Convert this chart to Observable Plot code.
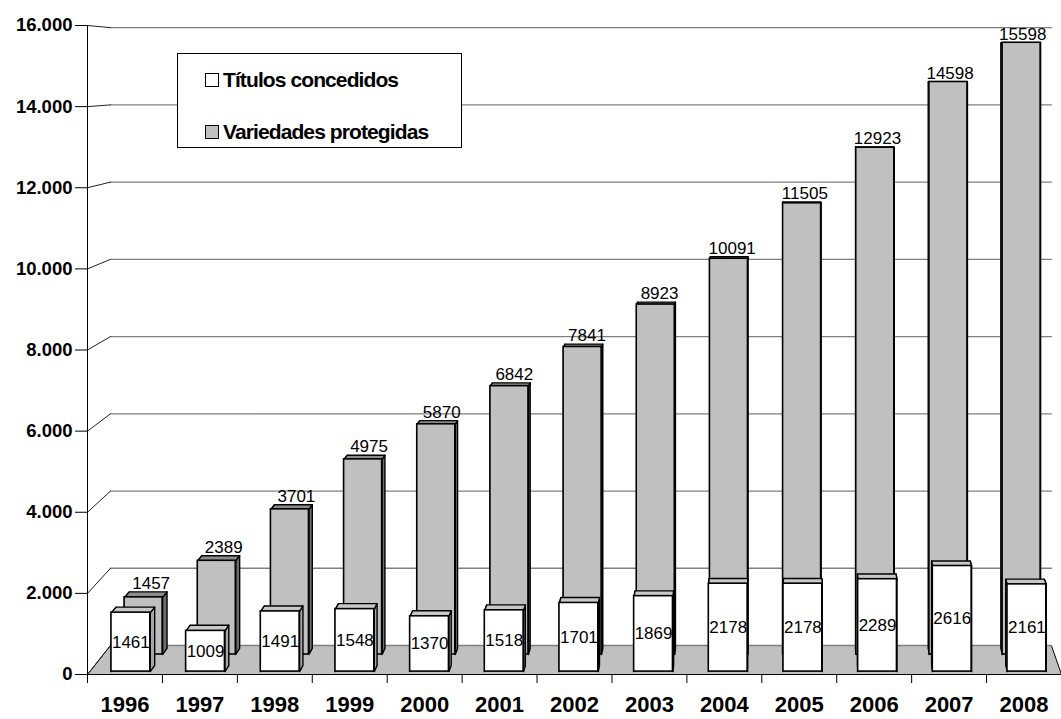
<!DOCTYPE html>
<html>
<head>
<meta charset="utf-8">
<script src="https://cdn.jsdelivr.net/npm/d3@7"></script>
<script src="https://cdn.jsdelivr.net/npm/@observablehq/plot@0.6"></script>
<style>
  html, body { margin: 0; padding: 0; background: #fff; }
  #wrap { position: relative; width: 1061px; height: 719px; font-family: "Liberation Sans", Arial, sans-serif; }
  #legend { position: absolute; left: 177px; top: 53px; width: 285px; height: 95px; border: 1px solid #000; background: #fff; box-sizing: border-box; }
  .row { position: absolute; left: 27px; display: flex; align-items: center; font-weight: bold; font-size: 21px; letter-spacing: -0.9px; color: #000; white-space: nowrap; }
  .sw { width: 12px; height: 12px; border: 1px solid #000; margin-right: 4px; }
</style>
</head>
<body>
<div id="wrap">
  <div id="chart"></div>
  <div id="legend">
    <div class="row" style="top:14px"><div class="sw" style="background:#fff"></div><span id="l0"></span></div>
    <div class="row" style="top:66px"><div class="sw" style="background:#c0c0c0"></div><span id="l1"></span></div>
  </div>
</div>
<script>
const years = [1996, 1997, 1998, 1999, 2000, 2001, 2002, 2003, 2004, 2005, 2006, 2007, 2008];
const titulos = [1461, 1009, 1491, 1548, 1370, 1518, 1701, 1869, 2178, 2178, 2289, 2616, 2161];
const variedades = [1457, 2389, 3701, 4975, 5870, 6842, 7841, 8923, 10091, 11505, 12923, 14598, 15598];
const seriesNames = ["Títulos concedidos", "Variedades protegidas"];
const yTicks = [0, 2000, 4000, 6000, 8000, 10000, 12000, 14000, 16000];

document.getElementById("l0").textContent = seriesNames[0];
document.getElementById("l1").textContent = seriesNames[1];

// simple oblique/perspective projection of (category position, depth, value) into the front plane
const A = 0.034, B = 0.307, G = 0.048, D = 715;
const proj = (x, z, v) => ({x: x * (1 - A * z) + B * z, y: v * (1 - G * z) + D * z});
const N = years.length;

function barGeom(values, z0, z1, tag) {
  const fronts = [], tops = [], sides = [], labels = [];
  values.forEach((v, i) => {
    const xl = i + 0.29, xr = i + 0.81, xc = i + 0.55;
    const a = proj(xl, z0, 0), b = proj(xr, z0, v);
    fronts.push({x1: a.x, x2: b.x, y1: a.y, y2: b.y});
    const top = [proj(xl, z0, v), proj(xr, z0, v), proj(xr, z1, v), proj(xl, z1, v), proj(xl, z0, v)];
    top.forEach(p => tops.push({id: tag + i, ...p}));
    for (const xs of [xl, xr]) {
      const s = [proj(xs, z0, 0), proj(xs, z1, 0), proj(xs, z1, v), proj(xs, z0, v), proj(xs, z0, 0)];
      s.forEach(p => sides.push({id: tag + i + "s" + xs, ...p}));
    }
    labels.push({v, front: proj(xc, z0, v / 2), back: proj(xc, z1, v)});
  });
  return {fronts, tops, sides, labels};
}

const gray = barGeom(variedades, 0.69, 0.9, "g");
const white = barGeom(titulos, 0.1, 0.31, "w");

// floor
const floor = [proj(0, 0, 0), proj(0, 1, 0), proj(N, 1, 0), proj(N, 0, 0), proj(0, 0, 0)];
// back wall gridlines and side-wall diagonals
const wallLines = [], sideLines = [];
yTicks.forEach(t => {
  [proj(0, 1, t), proj(N, 1, t)].forEach(p => wallLines.push({id: t, ...p}));
  [proj(0, 0, t), proj(0, 1, t)].forEach(p => sideLines.push({id: t, ...p}));
});

const fmt = v => v === 0 ? "0" : d3.format(",")(v).replace(/,/g, ".");

const chart = Plot.plot({
  width: 1061,
  height: 719,
  marginLeft: 87,
  marginRight: 0,
  marginTop: 25,
  marginBottom: 45,
  style: {fontFamily: "Liberation Sans, Arial, sans-serif", background: "white", overflow: "visible"},
  x: {domain: [0, N], axis: null},
  y: {domain: [0, 16000], axis: null},
  marks: [
    Plot.line(floor, {x: "x", y: "y", fill: "#c0c0c0", stroke: "#000", strokeWidth: 1}),
    Plot.line(wallLines, {x: "x", y: "y", z: "id", stroke: "#808080", strokeWidth: 1.3}),
    Plot.line(sideLines, {x: "x", y: "y", z: "id", stroke: "#222", strokeWidth: 1}),
    Plot.ruleX([0], {y1: 0, y2: 16000, stroke: "#000", strokeWidth: 1}),
    Plot.axisY({ticks: yTicks, tickFormat: fmt, tickSize: 12, tickPadding: 3, fontSize: 18.5, fontWeight: "bold", label: null, stroke: "#000"}),
    Plot.axisX({ticks: d3.range(0, N + 1), tickFormat: () => "", tickSize: 9, label: null}),
    Plot.axisX({ticks: d3.range(N).map(i => i + 0.5), tickFormat: d => String(years[Math.floor(d)]), tickSize: 0, tickPadding: 22, fontSize: 22, fontWeight: "bold", label: null, ariaLabel: "year-labels"}),
    Plot.ruleY([0], {x1: 0, x2: N, stroke: "#000"}),
    // gray (back row)
    Plot.line(gray.sides, {x: "x", y: "y", z: "id", fill: "#6e6e6e", stroke: "#000", strokeWidth: 1.4}),
    Plot.line(gray.tops, {x: "x", y: "y", z: "id", fill: "#8c8c8c", stroke: "#000", strokeWidth: 1.4}),
    Plot.rect(gray.fronts, {x1: "x1", x2: "x2", y1: "y1", y2: "y2", fill: "#c0c0c0", stroke: "#000", strokeWidth: 1.6}),
    // white (front row)
    Plot.line(white.sides, {x: "x", y: "y", z: "id", fill: "#a8a8a8", stroke: "#000", strokeWidth: 1.4}),
    Plot.line(white.tops, {x: "x", y: "y", z: "id", fill: "#c8c8c8", stroke: "#000", strokeWidth: 1.4}),
    Plot.rect(white.fronts, {x1: "x1", x2: "x2", y1: "y1", y2: "y2", fill: "#fff", stroke: "#000", strokeWidth: 1.6}),
    Plot.text(gray.labels, {x: d => d.back.x, y: d => d.back.y, text: d => String(d.v), lineAnchor: "bottom", dy: -3, dx: 3, fontSize: 17, fill: "#000", ariaLabel: "data-labels"}),
    Plot.text(white.labels, {x: d => d.front.x, y: d => d.front.y, text: d => String(d.v), fontSize: 17, fill: "#000", ariaLabel: "data-labels"})
  ]
});

chart.querySelectorAll('[aria-label="year-labels"] text').forEach(t => t.style.letterSpacing = "-1.2px");
chart.querySelectorAll('[aria-label="data-labels"] text').forEach(t => t.style.letterSpacing = "-1px");
document.getElementById("chart").appendChild(chart);
</script>
</body>
</html>
